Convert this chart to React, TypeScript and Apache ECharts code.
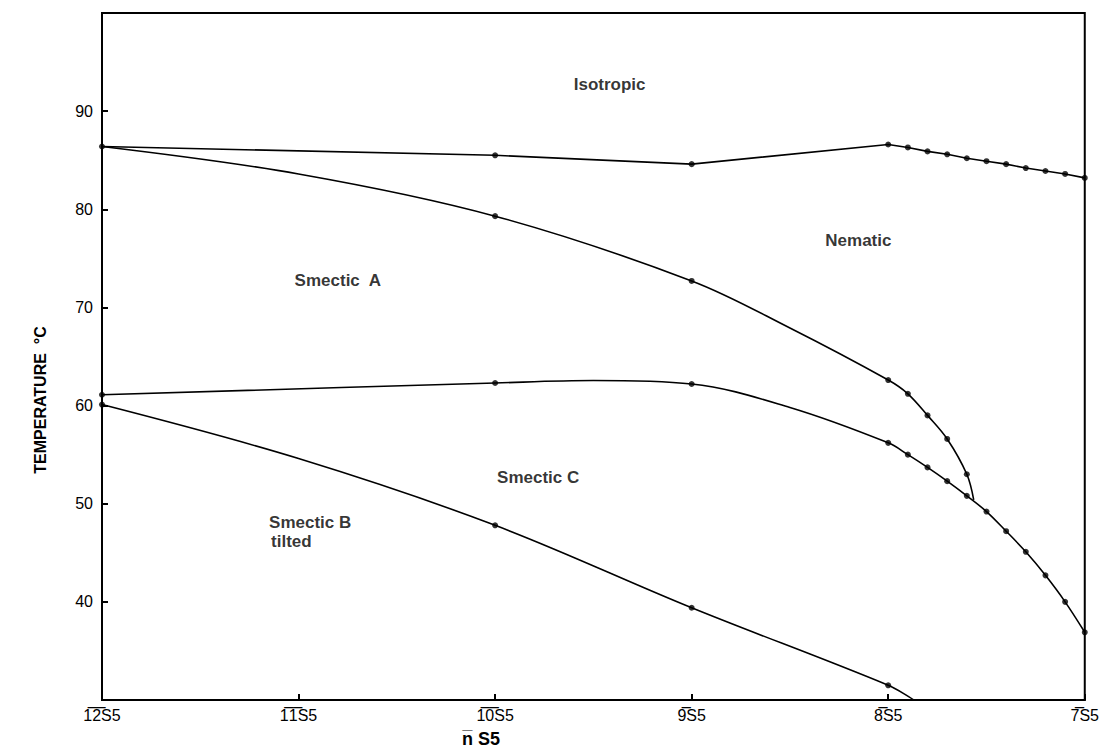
import React, { useEffect, useRef } from "react";
import * as echarts from "echarts";

// n values of nS5 homologues (x axis, reversed from 12 to 7)
const xTicks = [12, 11, 10, 9, 8, 7];
const yTickLabels = [40, 50, 60, 70, 80, 90];

// Isotropic / (SmA, Nematic) boundary
const isoLine: [number, number][] = [
  [12, 86.4], [10, 85.5], [9, 84.6], [8, 86.6], [7.9, 86.3], [7.8, 85.9], [7.7, 85.6],
  [7.6, 85.2], [7.5, 84.9], [7.4, 84.6], [7.3, 84.2], [7.2, 83.9], [7.1, 83.6], [7.0, 83.2],
];
const isoDots: [number, number][] = isoLine;

// Smectic A / Nematic boundary
const saNLine: [number, number][] = [
  [12, 86.4], [11, 83.6], [10, 79.3], [9, 72.7],
  [8.5, 67.9], [8, 62.6], [7.9, 61.2], [7.8, 59.0], [7.7, 56.6], [7.6, 53.0], [7.565, 50.4],
];
const saNDots: [number, number][] = [
  [10, 79.3], [9, 72.7], [8, 62.6], [7.9, 61.2], [7.8, 59.0], [7.7, 56.6], [7.6, 53.0],
];

// Smectic A / Smectic C boundary (continues as Smectic C / Nematic)
const saCLine: [number, number][] = [
  [12, 61.1], [10, 62.3], [9.5, 62.55], [9, 62.2], [8.5, 59.8], [8, 56.2],
  [7.9, 55.0], [7.8, 53.7], [7.7, 52.3], [7.6, 50.8], [7.5, 49.2], [7.4, 47.2],
  [7.3, 45.1], [7.2, 42.7], [7.1, 40.0], [7.0, 36.9],
];
const saCDots: [number, number][] = [
  [12, 61.1], [10, 62.3], [9, 62.2], [8, 56.2], [7.9, 55.0], [7.8, 53.7], [7.7, 52.3],
  [7.6, 50.8], [7.5, 49.2], [7.4, 47.2], [7.3, 45.1], [7.2, 42.7], [7.1, 40.0], [7.0, 36.9],
];

// Smectic C / Smectic B tilted boundary
const sCBLine: [number, number][] = [
  [12, 60.1], [11, 54.6], [10, 47.8], [9, 39.4], [8, 31.5], [7.87, 30],
];
const sCBDots: [number, number][] = [[12, 60.1], [10, 47.8], [9, 39.4], [8, 31.5]];

// Phase region labels (left edge, vertical centre)
const regionLabels: { name: string; value: [number, number] }[] = [
  { name: "Isotropic", value: [9.6, 92.75] },
  { name: "Nematic", value: [8.32, 76.8] },
  { name: "Smectic  A", value: [11.02, 72.7] },
  { name: "Smectic C", value: [9.99, 52.7] },
  { name: "Smectic B", value: [11.15, 48.1] },
  { name: "tilted", value: [11.14, 46.1] },
];

const overline = (s: string) => s.split("").map((c) => c + "\u0305").join("");

export default function App() {
  const ref = useRef<HTMLDivElement>(null);
  useEffect(() => {
    if (!ref.current) return;
    const chart = echarts.init(ref.current, undefined, { renderer: "svg" });
    const lineStyle = { color: "#000", width: 1.6 };
    const lineSeries = (data: [number, number][], smooth: number | boolean) => ({
      type: "line",
      data,
      smooth,
      symbol: "none",
      lineStyle,
      clip: true,
      silent: true,
      z: 2,
    });
    const dotSeries = (data: [number, number][]) => ({
      type: "scatter",
      data,
      symbol: "circle",
      symbolSize: 6,
      itemStyle: { color: "#000" },
      silent: true,
      z: 3,
    });
    chart.setOption({
      animation: false,
      backgroundColor: "#fff",
      grid: {
        left: 102,
        right: 12,
        top: 13,
        bottom: 51,
        show: true,
        borderColor: "#000",
        borderWidth: 2,
        backgroundColor: "transparent",
      },
      xAxis: {
        type: "value",
        min: 7,
        max: 12,
        interval: 1,
        inverse: true,
        splitLine: { show: false },
        axisLine: { lineStyle: { color: "#000", width: 2 } },
        axisTick: { inside: true, length: 6, lineStyle: { color: "#000", width: 2 } },
        axisLabel: {
          color: "#000",
          fontFamily: "Liberation Sans",
          fontSize: 16,
          margin: 7,
          formatter: (v: number) => (xTicks.includes(v) ? overline(String(v)) + "S5" : ""),
        },
      },
      yAxis: {
        type: "value",
        min: 30,
        max: 100,
        interval: 10,
        splitLine: { show: false },
        axisLine: { lineStyle: { color: "#000", width: 2 } },
        axisTick: { inside: true, length: 6, lineStyle: { color: "#000", width: 2 } },
        axisLabel: {
          color: "#000",
          fontFamily: "Liberation Sans",
          fontSize: 16,
          margin: 9,
          formatter: (v: number) => (yTickLabels.includes(v) ? String(v) : ""),
        },
      },
      graphic: [
        {
          type: "text",
          x: 481,
          y: 739,
          style: {
            text: "n\u0305 S5",
            fill: "#000",
            font: "bold 18px 'Liberation Sans'",
            align: "center",
            verticalAlign: "middle",
          },
        },
        {
          type: "text",
          x: 40,
          y: 400,
          rotation: Math.PI / 2,
          style: {
            text: "TEMPERATURE  \u00B0C",
            fill: "#000",
            font: "bold 16px 'Liberation Sans'",
            align: "center",
            verticalAlign: "middle",
          },
        },
      ],
      series: [
        lineSeries(isoLine, false),
        lineSeries(saNLine, 0.35),
        lineSeries(saCLine, 0.35),
        lineSeries(sCBLine, 0.35),
        dotSeries(isoDots),
        dotSeries(saNDots),
        dotSeries(saCDots),
        dotSeries(sCBDots),
        {
          type: "scatter",
          data: regionLabels,
          symbolSize: 0,
          silent: true,
          label: {
            show: true,
            position: "right",
            distance: 0,
            formatter: (p: any) => p.name,
            color: "#000",
            fontFamily: "Liberation Sans",
            fontWeight: "bold",
            fontSize: 17,
          },
        },
      ],
    });
    return () => chart.dispose();
  }, []);
  return (
    <div
      ref={ref}
      style={{ position: "fixed", left: 0, top: 0, width: 1102, height: 751, background: "#fff" }}
    />
  );
}
